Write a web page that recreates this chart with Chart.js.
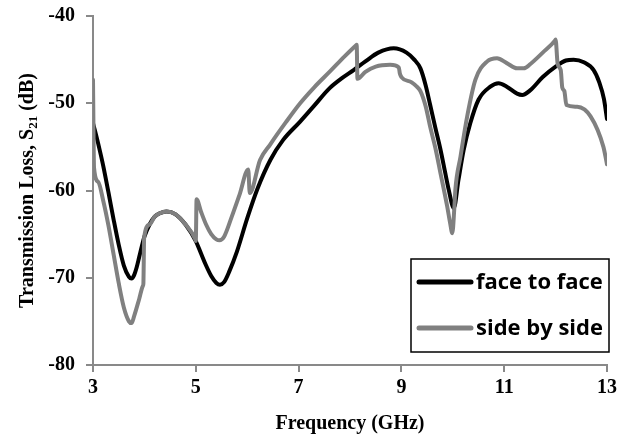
<!DOCTYPE html>
<html lang="en">
<head>
<meta charset="UTF-8">
<title>Transmission Loss</title>
<style>
  html, body { margin: 0; padding: 0; background: #fff; }
  canvas { display: block; }
</style>
</head>
<body>
<canvas id="grafico" width="628" height="437"></canvas>

<script src="https://cdn.jsdelivr.net/npm/chart.js"></script>
<script>
  // series names
  const serieNames = ['face to face', 'side by side']

  // face to face: frequency (GHz) and S21 (dB)
  const freqFace = [3.00, 3.05, 3.10, 3.20, 3.30, 3.40, 3.50, 3.60, 3.70, 3.75, 3.80, 3.85, 3.90, 3.95, 4.00,
    4.10, 4.20, 4.30, 4.43, 4.60, 4.80, 5.00, 5.10, 5.20, 5.30, 5.40, 5.47, 5.55, 5.65, 5.80,
    6.00, 6.20, 6.45, 6.70, 7.03, 7.30, 7.60, 7.85, 8.07, 8.30, 8.55, 8.85, 9.10, 9.25, 9.37, 9.47,
    9.56, 9.66, 9.76, 9.85, 9.92, 10.02, 10.11, 10.21, 10.34, 10.50, 10.73, 10.89, 11.05, 11.25, 11.35, 11.51, 11.75,
    12.00, 12.20, 12.35, 12.55, 12.74, 12.85, 12.94, 13.00]
  const lossFace = [-52.3, -53.4, -54.6, -57.2, -60.2, -63.3, -66.2, -68.6, -69.9, -70.1, -69.7, -68.8, -67.6, -66.4, -65.3,
    -63.9, -63.0, -62.6, -62.4, -62.7, -63.9, -65.8, -67.2, -68.6, -69.8, -70.6, -70.8, -70.5, -69.3, -67.0,
    -63.2, -59.8, -56.5, -54.2, -52.1, -50.3, -48.3, -47.1, -46.2, -45.2, -44.2, -43.7, -44.2, -45.0, -46.0, -47.9,
    -50.2, -52.8, -55.3, -57.9, -59.9, -62.0, -58.8, -55.4, -52.3, -49.6, -48.1, -47.7, -48.1, -48.9, -49.05, -48.5, -47.0,
    -45.8, -45.1, -45.0, -45.3, -46.2, -47.6, -49.5, -51.8]

  // side by side
  const freqSide = [3.00, 3.02, 3.10, 3.20, 3.30, 3.40, 3.50, 3.60, 3.70, 3.75, 3.80, 3.90, 3.97, 3.98, 3.995,
    4.10, 4.20, 4.30, 4.43, 4.60, 4.80, 4.99, 5.00, 5.015, 5.10, 5.20, 5.30, 5.40, 5.46, 5.55, 5.70, 5.85,
    6.02, 6.05, 6.25, 6.45, 6.75, 7.03, 7.30, 7.62, 7.90, 8.12, 8.13, 8.145, 8.30, 8.50, 8.78, 8.95, 8.97,
    9.00, 9.20, 9.30, 9.37, 9.47, 9.56, 9.66, 9.76, 9.89, 9.95, 9.99, 10.03, 10.05, 10.15, 10.28, 10.44,
    10.67, 10.86, 11.05, 11.25, 11.38, 11.51, 11.75, 11.99, 12.00, 12.04, 12.10, 12.13, 12.17, 12.21,
    12.42, 12.68, 12.93, 13.00]
  const lossSide = [-47.3, -57.4, -59.0, -61.2, -64.0, -67.3, -70.6, -73.4, -75.0, -75.2, -74.4, -72.4, -70.95, -70.7, -65.4,
    -63.9, -63.0, -62.6, -62.4, -62.7, -63.9, -65.6, -65.8, -61.0, -62.4, -63.9, -65.0, -65.6, -65.7, -65.3, -63.0, -60.5,
    -57.6, -60.3, -56.5, -54.7, -52.2, -50.0, -48.2, -46.3, -44.6, -43.35, -43.3, -47.2, -46.4, -45.8, -45.6, -45.9, -46.6,
    -47.0, -47.6, -48.1, -48.6, -50.3, -52.7, -55.1, -58.0, -61.8, -63.8, -64.9, -62.0, -59.9, -56.1, -51.5, -47.3,
    -45.2, -44.85, -45.4, -46.0, -46.0, -45.5, -44.2, -42.8, -42.7, -45.5, -46.2, -48.2, -48.6, -50.2,
    -50.4, -51.5, -55.0, -57.0]

  // axis ticks
  const xTicks = [3, 5, 7, 9, 11, 13]
  const yTicks = [-80, -70, -60, -50, -40]

  const axisGray = '#898989'
  const serifBold = { family: '"Liberation Serif", "Times New Roman", serif', size: 20, weight: 'bold' }

  const pares = (xs, ys) => xs.map((x, i) => ({ x: x, y: ys[i] }))

  // y title (with subscript) and the boxed legend
  const extras = {
    id: 'extras',
    afterDraw(chart) {
      const ctx = chart.ctx
      const area = chart.chartArea

      ctx.save()
      ctx.fillStyle = '#000'
      ctx.textBaseline = 'alphabetic'
      const big = 'bold 20px "Liberation Serif"'
      const small = 'bold 13px "Liberation Serif"'
      const parts = [['Transmission Loss, S', big, 0], ['21', small, 4], [' (dB)', big, 0]]
      let total = 0
      parts.forEach(p => { ctx.font = p[1]; total += ctx.measureText(p[0]).width })
      ctx.translate(33, (area.top + area.bottom) / 2)
      ctx.rotate(-Math.PI / 2)
      let pos = -total / 2
      parts.forEach(p => {
        ctx.font = p[1]
        ctx.fillText(p[0], pos, p[2])
        pos += ctx.measureText(p[0]).width
      })
      ctx.restore()

      // legend box
      const bx = area.right - 196, by = area.bottom - 106, bw = 198, bh = 93
      ctx.save()
      ctx.fillStyle = '#fff'
      ctx.fillRect(bx, by, bw, bh)
      ctx.strokeStyle = '#000'
      ctx.lineWidth = 1.5
      ctx.strokeRect(bx, by, bw, bh)
      ctx.font = 'bold 22px "Open Sans"'
      ctx.textBaseline = 'alphabetic'
      chart.data.datasets.forEach((ds, i) => {
        const base = by + 30 + i * 46
        ctx.strokeStyle = ds.borderColor
        ctx.lineWidth = 5
        ctx.lineCap = 'round'
        ctx.beginPath()
        ctx.moveTo(bx + 8, base - 7)
        ctx.lineTo(bx + 60, base - 7)
        ctx.stroke()
        ctx.fillStyle = '#000'
        ctx.fillText(ds.label, bx + 65, base)
      })
      ctx.restore()
    }
  }

  const ctx = document.getElementById('grafico')

  let grafico = new Chart(ctx, {
    type: 'line',
    data: {
      datasets: [{
        label: serieNames[0],
        data: pares(freqFace, lossFace),
        borderColor: '#000000',
        borderWidth: 4,
        order: 2
      }, {
        label: serieNames[1],
        data: pares(freqSide, lossSide),
        borderColor: '#808080',
        borderWidth: 4,
        order: 1
      }]
    },
    options: {
      responsive: false,
      animation: false,
      devicePixelRatio: 1,
      layout: { padding: { top: 16, right: 21, bottom: 0, left: 0 } },
      elements: {
        point: { radius: 0 },
        line: { cubicInterpolationMode: 'monotone', borderCapStyle: 'round', borderJoinStyle: 'round' }
      },
      plugins: {
        legend: { display: false },
        tooltip: { enabled: false }
      },
      scales: {
        x: {
          type: 'linear',
          min: 3,
          max: 13,
          afterBuildTicks: s => { s.ticks = xTicks.map(v => ({ value: v })) },
          afterFit: s => { s.height = 72; s.paddingLeft = 0; s.paddingRight = 0 },
          border: { color: axisGray, width: 2 },
          grid: { drawOnChartArea: false, drawTicks: true, tickLength: 7, color: axisGray, lineWidth: 2 },
          ticks: { color: '#000', font: serifBold, padding: 4, maxRotation: 0 },
          title: { display: true, text: 'Frequency (GHz)', color: '#000', font: serifBold, padding: { top: 0, bottom: 1 } }
        },
        y: {
          min: -80,
          max: -40,
          afterBuildTicks: s => { s.ticks = yTicks.map(v => ({ value: v })) },
          afterFit: s => { s.width = 93; s.paddingTop = 0; s.paddingBottom = 0 },
          border: { color: axisGray, width: 2 },
          grid: { drawOnChartArea: false, drawTicks: true, tickLength: 7, color: axisGray, lineWidth: 2 },
          ticks: { color: '#000', font: serifBold, padding: 11 }
        }
      }
    },
    plugins: [extras]
  });
</script>
</body>
</html>
